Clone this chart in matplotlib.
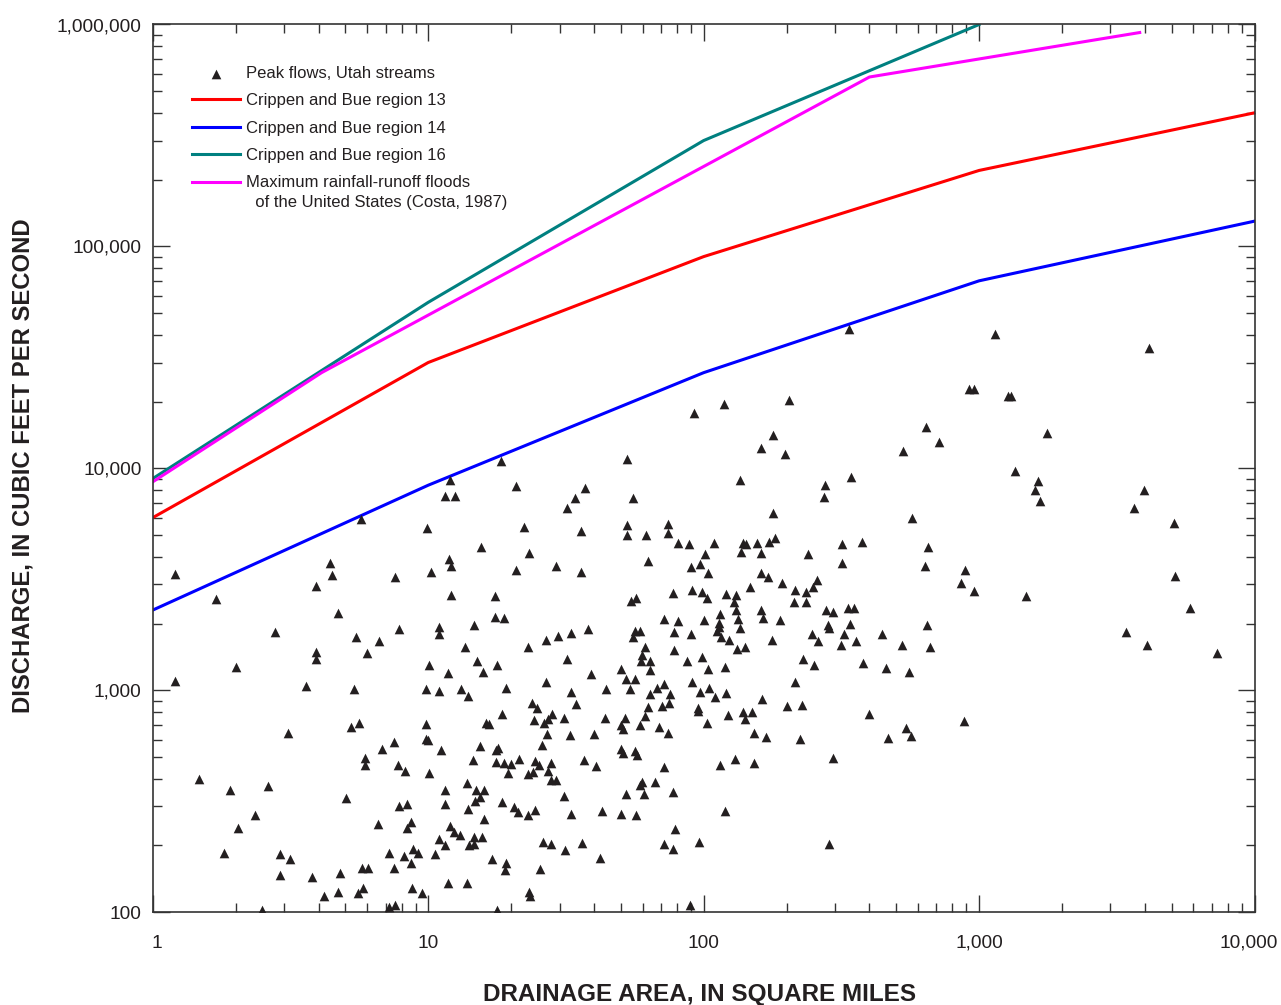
import matplotlib
matplotlib.use("Agg")
import matplotlib.pyplot as plt
import matplotlib.transforms as mtransforms
from matplotlib.ticker import FixedLocator, FuncFormatter, NullFormatter
from matplotlib.legend_handler import HandlerLine2D

plt.rcParams['font.family'] = ['Liberation Sans', 'DejaVu Sans']

# ---------------- data ----------------
# Peak flows, Utah streams: drainage area (sq mi) and discharge (ft3/s)
area = [
    1.20, 1.70, 5.68, 9.92, 4.40, 4.47, 3.91, 7.57, 10.2, 4.72,
    2.78, 7.83, 5.48, 6.61, 5.98, 3.91, 3.91, 2.00, 10.1, 1.20,
    3.60, 5.39, 9.81, 3.10, 5.25, 5.60, 9.81, 9.81, 9.97, 7.49,
    6.80, 5.91, 5.91, 7.79, 8.26, 10.1, 1.47, 1.90, 2.63, 5.01,
    7.83, 8.35, 2.35, 2.04, 6.56, 8.67, 8.40, 1.82, 2.90, 3.16,
    7.21, 8.79, 8.19, 9.21, 5.77, 6.06, 7.49, 8.65, 2.90, 3.78,
    4.80, 5.81, 5.57, 4.72, 4.19, 8.71, 9.47, 7.23, 7.57, 2.50,
    92.4, 18.4, 52.9, 12.0, 20.8, 37.1, 11.5, 12.5, 34.0, 55.5,
    31.9, 22.2, 36.0, 52.8, 52.9, 61.9, 74.5, 74.5, 80.6, 88.7,
    101, 15.5, 23.3, 11.9, 12.1, 20.8, 29.0, 36.0, 62.8, 89.7,
    97.2, 104, 12.1, 17.5, 54.3, 56.7, 77.5, 90.9, 98.5, 103,
    17.5, 18.9, 14.7, 10.9, 10.9, 71.8, 80.4, 99.9, 38.0, 32.9,
    29.5, 26.8, 56.3, 58.6, 55.5, 77.9, 89.7, 13.6, 23.0, 61.2,
    77.9, 59.9, 59.4, 63.8, 31.9, 15.0, 17.8, 11.8, 15.8, 39.0,
    50.0, 63.8, 86.8, 98.5, 104, 52.3, 56.5, 26.8, 71.8, 67.9,
    90.4, 10.9, 13.1, 14.0, 19.2, 32.9, 44.3, 53.9, 63.8, 75.4,
    96.9, 105, 34.5, 23.9, 24.9, 62.6, 70.4, 74.8, 95.0, 95.0,
    18.6, 28.1, 27.2, 26.3, 24.3, 31.2, 43.9, 51.8, 50.1, 50.8,
    61.2, 58.9, 68.8, 74.0, 103, 16.2, 16.6, 26.9, 32.7, 39.9,
    11.1, 15.4, 17.6, 17.9, 25.8, 50.0, 50.8, 56.5, 57.3, 14.5,
    17.6, 18.9, 20.0, 21.4, 24.4, 25.2, 27.8, 27.3, 19.5, 23.0,
    24.0, 36.7, 40.5, 71.6, 27.8, 29.0, 13.8, 11.5, 14.9, 15.9,
    15.4, 14.8, 59.7, 58.8, 66.8, 52.3, 60.6, 77.6, 31.1, 11.5,
    14.0, 18.5, 20.5, 21.2, 23.0, 24.5, 33.0, 42.9, 50.0, 57.0,
    16.0, 12.0, 12.4, 13.0, 78.8, 10.9, 11.5, 14.7, 15.7, 14.1,
    14.7, 26.0, 27.8, 36.1, 31.3, 71.8, 77.1, 96.4, 10.6, 17.0,
    19.2, 19.0, 25.5, 42.1, 11.8, 13.8, 23.3, 23.5, 17.8, 89.4,
    918, 957, 119, 204, 179, 161, 197, 642, 714, 528,
    135, 342, 276, 273, 179, 573, 109, 139, 142, 156,
    172, 181, 318, 376, 655, 137, 161, 240, 318, 637,
    889, 161, 171, 147, 192, 257, 250, 215, 236, 863,
    957, 121, 131, 129, 131, 213, 236, 161, 278, 294,
    333, 351, 115, 114, 114, 112, 133, 164, 189, 136,
    282, 285, 339, 647, 116, 124, 132, 141, 177, 248,
    261, 323, 315, 357, 446, 526, 664, 120, 230, 251,
    380, 459, 555, 214, 110, 121, 163, 200, 227, 123,
    139, 150, 141, 397, 882, 152, 168, 224, 467, 543,
    566, 115, 130, 152, 294, 120, 286, 336,
    1146, 4130, 1276, 1305, 1761, 1345, 1642, 1602, 1662, 3970,
    3655, 5083, 1483, 5143, 5810, 3410, 4080, 7310,
]
discharge = [
    3330, 2580, 5890, 5370, 3740, 3320, 2960, 3240, 3430, 2230,
    1830, 1890, 1740, 1670, 1480, 1490, 1390, 1280, 1300, 1100,
    1050, 1010, 1010, 643, 686, 711, 706, 602, 595, 584,
    547, 495, 463, 463, 431, 424, 397, 356, 371, 326,
    300, 306, 275, 240, 249, 254, 241, 185, 184, 173,
    185, 193, 180, 185, 158, 158, 158, 166, 148, 144,
    150, 129, 122, 124, 119, 129, 122, 106, 108, 102,
    17800, 10800, 11000, 8850, 8320, 8180, 7500, 7500, 7350, 7370,
    6600, 5460, 5240, 5580, 5010, 5010, 5640, 5120, 4630, 4580,
    4100, 4430, 4160, 3900, 3640, 3500, 3650, 3410, 3830, 3610,
    3700, 3370, 2700, 2660, 2520, 2600, 2740, 2840, 2780, 2600,
    2150, 2110, 1960, 1920, 1800, 2100, 2050, 2070, 1890, 1820,
    1750, 1680, 1850, 1850, 1740, 1830, 1790, 1560, 1570, 1560,
    1520, 1450, 1360, 1360, 1380, 1360, 1300, 1200, 1210, 1190,
    1250, 1230, 1360, 1410, 1250, 1130, 1120, 1090, 1070, 1020,
    1090, 989, 1010, 945, 1030, 979, 1010, 1010, 966, 966,
    985, 1020, 865, 874, 830, 844, 852, 874, 837, 810,
    785, 785, 743, 711, 735, 753, 748, 748, 698, 668,
    764, 698, 686, 645, 715, 711, 706, 636, 628, 636,
    539, 562, 539, 552, 568, 543, 521, 535, 514, 485,
    478, 470, 465, 491, 481, 462, 470, 435, 426, 420,
    429, 486, 458, 452, 396, 396, 383, 357, 354, 354,
    331, 316, 388, 373, 386, 342, 340, 350, 335, 307,
    292, 315, 298, 283, 275, 290, 278, 285, 278, 274,
    262, 244, 229, 224, 238, 214, 201, 218, 219, 201,
    203, 207, 204, 206, 191, 203, 192, 207, 184, 174,
    166, 155, 156, 175, 136, 135, 123, 119, 102, 108,
    22900, 22900, 19500, 20400, 14200, 12300, 11600, 15400, 13100, 12000,
    8900, 9110, 8400, 7410, 6310, 5960, 4630, 4630, 4550, 4630,
    4660, 4840, 4570, 4660, 4430, 4180, 4170, 4130, 3730, 3650,
    3500, 3370, 3240, 2930, 3040, 3140, 2920, 2820, 2760, 3030,
    2810, 2720, 2680, 2500, 2310, 2500, 2490, 2310, 2310, 2250,
    2360, 2360, 2210, 2020, 1930, 1860, 2090, 2110, 2070, 1900,
    1980, 1900, 2000, 1980, 1740, 1680, 1530, 1570, 1690, 1800,
    1660, 1800, 1600, 1670, 1800, 1600, 1570, 1270, 1390, 1300,
    1330, 1260, 1210, 1090, 930, 975, 914, 850, 858, 777,
    801, 801, 743, 780, 728, 641, 617, 602, 609, 677,
    621, 463, 493, 473, 498, 285, 203, 42300,
    40200, 34900, 21100, 21100, 14500, 9780, 8770, 8000, 7100, 8000,
    6630, 5690, 2650, 3280, 2350, 1830, 1600, 1480,
]

# Envelope curves
region13_area = [1, 10, 100, 1000, 10000]
region13_q = [6000, 30000, 90000, 220000, 400000]
region14_area = [1, 10, 100, 1000, 10000]
region14_q = [2300, 8400, 27000, 70000, 130000]
region16_area = [1, 10, 100, 1000]
region16_q = [9000, 56000, 300000, 1000000]
costa_area = [1, 4.1, 400, 3830]
costa_q = [8700, 27000, 580000, 920000]

x_ticks = [1, 10, 100, 1000, 10000]
y_ticks = [100, 1000, 10000, 100000, 1000000]

# ---------------- figure ----------------
fig = plt.figure(figsize=(12.81, 10.05), dpi=100)
ax = fig.add_axes([152.8 / 1281, 1 - 912.3 / 1005, (1254.5 - 152.8) / 1281, (912.3 - 24.5) / 1005])
ax.set_xscale('log')
ax.set_yscale('log')
ax.set_xlim(1, 10000)
ax.set_ylim(100, 1000000)

lw = 2.2
l13, = ax.plot(region13_area, region13_q, color='#ff0000', lw=lw, zorder=2)
l14, = ax.plot(region14_area, region14_q, color='#0000ff', lw=lw, zorder=2)
l16, = ax.plot(region16_area, region16_q, color='#008080', lw=lw, zorder=2)
lc, = ax.plot(costa_area, costa_q, color='#ff00ff', lw=lw, zorder=2)
sc = ax.scatter(area, discharge, marker='^', s=48, color='#231f20', linewidths=0, zorder=3)

fmt = FuncFormatter(lambda v, p: f'{int(round(v)):,}')
ax.xaxis.set_major_locator(FixedLocator(x_ticks))
ax.yaxis.set_major_locator(FixedLocator(y_ticks))
ax.xaxis.set_major_formatter(fmt)
ax.yaxis.set_major_formatter(fmt)
ax.xaxis.set_minor_formatter(NullFormatter())
ax.yaxis.set_minor_formatter(NullFormatter())

spine_color = '#333333'
for s in ax.spines.values():
    s.set_color(spine_color)
    s.set_linewidth(1.2)
ax.tick_params(which='both', direction='in', top=True, right=True, color=spine_color, width=1.0)
ax.tick_params(which='major', length=12)
ax.tick_params(which='minor', length=6.5)
ax.tick_params(axis='x', which='major', labelsize=13.8, pad=16, labelcolor='#231f20')
ax.tick_params(axis='y', which='major', labelsize=13.8, pad=8, labelcolor='#231f20')


class FirstLineHandler(HandlerLine2D):
    def create_artists(self, legend, orig_handle, xdescent, ydescent,
                       width, height, fontsize, trans):
        arts = super().create_artists(legend, orig_handle, xdescent, ydescent,
                                      width, height, fontsize, trans)
        for a in arts:
            yd = a.get_ydata()
            a.set_ydata([v + 0.65 * fontsize for v in yd])
        return arts


handles = [sc, l13, l14, l16, lc]
labels = ['Peak flows, Utah streams',
          'Crippen and Bue region 13',
          'Crippen and Bue region 14',
          'Crippen and Bue region 16',
          'Maximum rainfall-runoff floods\n  of the United States (Costa, 1987)']
leg = ax.legend(handles, labels, loc='upper left',
                bbox_to_anchor=(192 / 1281, 1 - 66 / 1005), bbox_transform=fig.transFigure,
                frameon=False, fontsize=12, handlelength=2.88, handletextpad=0.36,
                labelspacing=0.74, borderpad=0, borderaxespad=0, scatterpoints=1,
                handler_map={lc: FirstLineHandler()})
for t in leg.get_texts():
    t.set_color('#231f20')
leg.get_texts()[-1].set_linespacing(1.35)

fig.text(700 / 1281, 1 - 1001 / 1005, 'DRAINAGE AREA, IN SQUARE MILES',
         ha='center', va='baseline', fontsize=17.5, fontweight='bold', color='#231f20')
fig.text(23 / 1281, 1 - 466 / 1005, 'DISCHARGE, IN CUBIC FEET PER SECOND',
         ha='center', va='center', rotation=90, fontsize=17.2, fontweight='bold', color='#231f20')

# nudge the first and last x tick labels as in the reference
fig.canvas.draw()
xlabels = ax.get_xticklabels()
xlabels[0].set_transform(xlabels[0].get_transform() +
                         mtransforms.ScaledTranslation(4 / 100, 0, fig.dpi_scale_trans))
xlabels[-1].set_transform(xlabels[-1].get_transform() +
                          mtransforms.ScaledTranslation(-6 / 100, 0, fig.dpi_scale_trans))

fig.savefig('out.png', dpi=100)
